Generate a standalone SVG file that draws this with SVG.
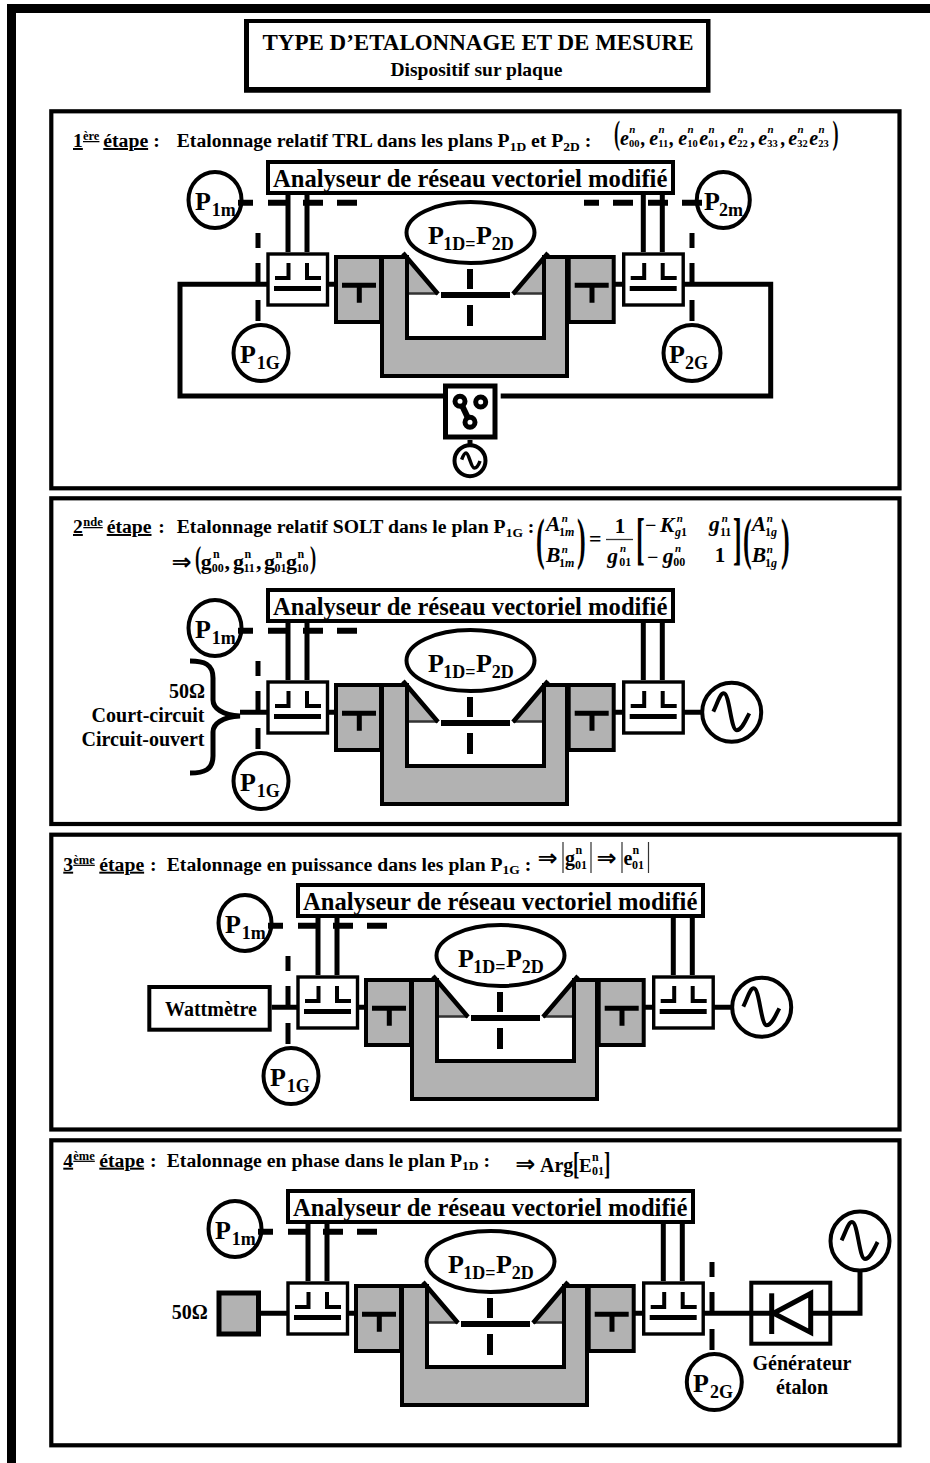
<svg xmlns="http://www.w3.org/2000/svg" width="930" height="1463" viewBox="0 0 930 1463">
<style>
text{font-family:"Liberation Serif","Times New Roman",serif;font-weight:bold;fill:#000}
.h{font-size:19.7px}
.u{text-decoration:underline}
.up{font-size:12.5px}
.sb{font-size:13.5px}
.an{font-size:24.6px}
.P{font-size:26px}
.ps{font-size:18px}
.lb{font-size:20px}
.i{font-style:italic;font-size:20px}
.m{font-style:italic;font-size:21.5px}
.sn{font-style:italic;font-size:11px}
.sd{font-size:10.5px}
.md{font-size:12px}
.gn{font-size:12px}
.gd{font-size:12px}
.ar{font-family:"DejaVu Sans",sans-serif;font-size:24px}
.frame{fill:none;stroke:#000;stroke-width:4.2}
.box{fill:#fff;stroke:#000;stroke-width:4}
.thin{fill:#fff;stroke:#000;stroke-width:3.4}
.gray{fill:#b2b2b2;stroke:#000;stroke-width:4}
.ln{fill:none;stroke:#000;stroke-width:5}
.ds{fill:none;stroke:#000;stroke-width:6}
.ci{fill:#fff;stroke:#000;stroke-width:4}
.sw{fill:#fff;stroke:#000;stroke-width:5}
</style>
<defs>
<g id="coupler">
<rect class="thin" x="268" y="254" width="59.5" height="51"/>
<path d="M275 278H288.500V263M321 278H307V263" fill="none" stroke="#000" stroke-width="4"/>
<path d="M274 288.500H321" class="ln"/>
</g>
<g id="tblock">
<rect class="gray" x="336" y="257" width="45" height="65"/>
<path d="M342 285.300H376M359.300 285.300V302.700" class="ln"/>
</g>
<g id="bench">
<path class="gray" d="M382 257H407V338H544V257H567V376H382Z"/>
<path d="M407 257L438 293.500H407Z" fill="#b2b2b2"/>
<path d="M544 257L513 293.500H544Z" fill="#b2b2b2"/>
<path d="M405 293.500H438M546 293.500H513" fill="none" stroke="#333" stroke-width="2.500"/>
<path d="M403 253L438 294M548 253L513 294" fill="none" stroke="#000" stroke-width="4.500"/>
<path d="M407 255V296M544 255V296" fill="none" stroke="#000" stroke-width="4"/>
</g>
<path id="sine" d="M-18.400 -.6C-14 -10 -11.500 -19 -8 -19C-2 -19 -1 18 5 18C10 18 14 8 17.600 1" fill="none" stroke="#000" stroke-width="4"/>
<g id="plane">
<ellipse class="ci" cx="470.500" cy="232.500" rx="64" ry="30.500"/>
</g>
<g id="analyser">
<rect class="box" x="268" y="162" width="405" height="31"/>
</g>
</defs>

<rect width="930" height="1463" fill="#fff"/>
<path id="page-border" d="M11.500 1463V8.500H930" fill="none" stroke="#000" stroke-width="9"/>

<g id="title">
<path fill-rule="evenodd" d="M244 19H710.500V92.700H244ZM249 23V87H706V23Z"/>
<text x="478" y="50" text-anchor="middle" font-size="23">TYPE D’ETALONNAGE ET DE MESURE</text>
<text x="476.500" y="76" text-anchor="middle" font-size="19.5">Dispositif sur plaque</text>
</g>

<g id="panel-frames">
<rect class="frame" x="51.300" y="111.300" width="848.200" height="377"/>
<rect class="frame" x="51.300" y="498.300" width="848.200" height="325.700"/>
<rect class="frame" x="51.300" y="834.700" width="848.200" height="294.800"/>
<rect class="frame" x="51.300" y="1140.300" width="848.200" height="305"/>
</g>

<g id="step1-header">
<text class="h u" x="73" y="147">1</text><text class="up u" x="83" y="140">ère</text><text class="h u" x="103.300" y="147">étape</text><text class="h" x="153.300" y="147">:</text>
<text class="h" x="176.700" y="147">Etalonnage relatif TRL dans les plans P<tspan class="sb" dy="3.5">1D</tspan><tspan dy="-3.5"> et P</tspan><tspan class="sb" dy="3.5">2D</tspan><tspan dy="-3.5"> :</tspan></text>
<g id="step1-formula">
<text font-size="33" transform="translate(614 144) scale(.55 1)">(</text>
<text class="i" x="620" y="145">e</text><text class="sn" x="629.300" y="133">n</text><text class="sd" x="629" y="147">00</text><text class="i" x="641" y="145">,</text>
<text class="i" x="649.300" y="145">e</text><text class="sn" x="658.600" y="133">n</text><text class="sd" x="658.300" y="147">11</text><text class="i" x="669.500" y="145">,</text>
<text class="i" x="678.300" y="145">e</text><text class="sn" x="687.600" y="133">n</text><text class="sd" x="687.300" y="147">10</text>
<text class="i" x="699.300" y="145">e</text><text class="sn" x="708.600" y="133">n</text><text class="sd" x="708.300" y="147">01</text><text class="i" x="721" y="145">,</text>
<text class="i" x="728.300" y="145">e</text><text class="sn" x="737.600" y="133">n</text><text class="sd" x="737.300" y="147">22</text><text class="i" x="751" y="145">,</text>
<text class="i" x="758.300" y="145">e</text><text class="sn" x="767.600" y="133">n</text><text class="sd" x="767.300" y="147">33</text><text class="i" x="781" y="145">,</text>
<text class="i" x="788.300" y="145">e</text><text class="sn" x="797.600" y="133">n</text><text class="sd" x="797.300" y="147">32</text>
<text class="i" x="809.300" y="145">e</text><text class="sn" x="818.600" y="133">n</text><text class="sd" x="818.300" y="147">23</text>
<text font-size="33" transform="translate(832.500 144) scale(.55 1)">)</text>
</g>
</g>

<g id="step1">
<g id="s1-analyser"><use href="#analyser"/><text class="an" x="273" y="187">Analyseur de réseau vectoriel modifié</text></g>
<g id="s1-plane"><use href="#plane"/><text class="P" x="428" y="243.500">P</text><text class="ps" x="443.300" y="250">1D=</text><text class="P" x="476" y="243.500">P</text><text class="ps" x="491.700" y="250">2D</text></g>
<g id="s1-bench"><use href="#bench"/></g>
<g id="s1-t1"><use href="#tblock"/></g>
<g id="s1-t2"><use href="#tblock" x="232.700"/></g>
<g id="s1-coupler1"><use href="#coupler"/></g>
<g id="s1-coupler2"><use href="#coupler" x="355.700"/></g>
<g id="s1-P1m"><ellipse class="ci" cx="215" cy="200" rx="26.500" ry="28"/><text class="P" x="195" y="209.500">P</text><text class="ps" x="211.700" y="216">1m</text></g>
<g id="s1-P2m"><ellipse class="ci" cx="723.300" cy="200" rx="26.500" ry="28"/><text class="P" x="704" y="209.500">P</text><text class="ps" x="719" y="216">2m</text></g>
<g id="s1-P1G"><ellipse class="ci" cx="261" cy="353" rx="27.500" ry="28"/><text class="P" x="240" y="363">P</text><text class="ps" x="256.700" y="369.300">1G</text></g>
<g id="s1-P2G"><ellipse class="ci" cx="692" cy="353" rx="28.500" ry="28"/><text class="P" x="669" y="363">P</text><text class="ps" x="685" y="369.300">2G</text></g>
<g id="s1-switch">
<rect x="445.500" y="386" width="49.500" height="51" fill="#fff" stroke="#000" stroke-width="5"/>
<path d="M460 401.300L470 422.300" fill="none" stroke="#000" stroke-width="6"/>
<circle class="sw" cx="460" cy="401.300" r="5"/>
<circle class="sw" cx="480.700" cy="402" r="5"/>
<circle class="sw" cx="470" cy="422.300" r="5"/>
</g>
<g id="s1-source"><circle class="ci" cx="470" cy="460.700" r="15.500"/><path d="M461.700 459.700C463 456 464.500 453 466 453C469 453 471 468 474.300 468C477 468 479 464 480 461" fill="none" stroke="#000" stroke-width="3.500"/></g>
<g id="s1-connectors">
<path class="ln" d="M288 193V252M307 193V252M643.300 193V252M662.300 193V252"/>
<path class="ln" d="M268 284.300H180V396H445"/>
<path class="ln" d="M684 284.300H770.700V396H500.700"/>
<path class="ln" d="M329 284.300H336M615 284.300H622M470 440V447"/>
<path class="ds" d="M441 295H510"/>
<path class="ds" d="M470 269V289M470 305V326"/>
<path class="ds" d="M238 202.700H253M268 202.700H288M303 202.700H323M337 202.700H357"/>
<path class="ds" d="M584 202.700H599M613 202.700H633M648 202.700H668M682 202.700H702"/>
<path class="ln" d="M258 233V248M258 263V284M258 300V321"/>
<path class="ln" d="M692 233V248M692 263V284M692 300V321"/>
</g>
</g>

<g id="step2-header">
<text class="h u" x="73" y="533">2</text><text class="up u" x="83.300" y="526">nde</text><text class="h u" x="106.700" y="533">étape</text><text class="h" x="158.300" y="533">:</text>
<text class="h" x="176.700" y="533">Etalonnage relatif SOLT dans le plan P<tspan class="sb" dy="3.5">1G</tspan><tspan dy="-3.5"> :</tspan></text>
<g id="step2-result">
<text class="ar" x="171.500" y="570">⇒</text>
<text font-size="31" transform="translate(195 568) scale(.6 1)">(</text>
<text font-size="22" x="200.700" y="569">g</text><text class="gn" x="213" y="558">n</text><text class="gd" x="211.700" y="571.700">00</text><text font-size="22" x="224.500" y="569">,</text>
<text font-size="22" x="233" y="569">g</text><text class="gn" x="244.500" y="558">n</text><text class="gd" x="243.500" y="571.700">11</text><text font-size="22" x="256" y="569">,</text>
<text font-size="22" x="264" y="569">g</text><text class="gn" x="275.500" y="558">n</text><text class="gd" x="274.500" y="571.700">01</text>
<text font-size="22" x="286" y="569">g</text><text class="gn" x="297.500" y="558">n</text><text class="gd" x="296.500" y="571.700">10</text>
<text font-size="31" transform="translate(310 568) scale(.6 1)">)</text>
</g>
<g id="step2-matrix">
<text font-size="58" transform="translate(536 558) scale(.45 1)">(</text>
<text class="m" x="546" y="531">A</text><text class="sn" x="561.700" y="522">n</text><text class="md" x="559" y="535.700">1<tspan font-style="italic">m</tspan></text>
<text class="m" x="546" y="562.300">B</text><text class="sn" x="561.700" y="553">n</text><text class="md" x="559" y="566.500">1<tspan font-style="italic">m</tspan></text>
<text font-size="58" transform="translate(577 558) scale(.45 1)">)</text>
<text x="589" y="546" font-size="22">=</text>
<text x="620" y="532.500" font-size="21" text-anchor="middle">1</text>
<path d="M606 539.500H633" stroke="#333" stroke-width="1.300"/>
<text class="m" x="607.300" y="563.300">g</text><text class="sn" x="620" y="552">n</text><text class="md" x="619.300" y="566">01</text>
<text font-size="58" transform="translate(636 558) scale(.45 1)">[</text>
<text x="645" y="532" font-size="20">−</text><text class="m" x="660" y="531.700">K</text><text class="sn" x="676.700" y="522">n</text><text class="md" x="675" y="536"><tspan font-style="italic">g</tspan>1</text>
<text class="m" x="709" y="531">g</text><text class="sn" x="721.700" y="522">n</text><text class="md" x="720" y="536">11</text>
<text x="647" y="564" font-size="20">−</text><text class="m" x="662.700" y="563">g</text><text class="sn" x="675" y="552">n</text><text class="md" x="673.300" y="566">00</text>
<text x="720" y="561.700" font-size="21" text-anchor="middle">1</text>
<text font-size="58" transform="translate(733 558) scale(.45 1)">]</text>
<text font-size="58" transform="translate(743 558) scale(.45 1)">(</text>
<text class="m" x="751.700" y="531">A</text><text class="sn" x="766.700" y="522">n</text><text class="md" x="765" y="536">1<tspan font-style="italic">g</tspan></text>
<text class="m" x="751.700" y="562.300">B</text><text class="sn" x="766.700" y="553">n</text><text class="md" x="765" y="566.500">1<tspan font-style="italic">g</tspan></text>
<text font-size="58" transform="translate(781 558) scale(.45 1)">)</text>
</g>
</g>

<g id="step2" transform="translate(0 428)">
<g id="s2-analyser"><use href="#analyser"/><text class="an" x="273" y="187">Analyseur de réseau vectoriel modifié</text></g>
<g id="s2-plane"><use href="#plane"/><text class="P" x="428" y="243.500">P</text><text class="ps" x="443.300" y="250">1D=</text><text class="P" x="476" y="243.500">P</text><text class="ps" x="491.700" y="250">2D</text></g>
<g id="s2-bench"><use href="#bench"/></g>
<g id="s2-t1"><use href="#tblock"/></g>
<g id="s2-t2"><use href="#tblock" x="232.700"/></g>
<g id="s2-coupler1"><use href="#coupler"/></g>
<g id="s2-coupler2"><use href="#coupler" x="355.700"/></g>
<g id="s2-P1m"><ellipse class="ci" cx="215" cy="200" rx="26.500" ry="28"/><text class="P" x="195" y="209.500">P</text><text class="ps" x="211.700" y="216">1m</text></g>
<g id="s2-P1G"><ellipse class="ci" cx="261" cy="353" rx="27.500" ry="28"/><text class="P" x="240" y="363">P</text><text class="ps" x="256.700" y="369.300">1G</text></g>
<g id="s2-source"><circle class="ci" cx="731.700" cy="284.300" r="29.500"/><use href="#sine" x="731.700" y="284.300"/></g>
<g id="s2-loads">
<text class="lb" x="205" y="270" text-anchor="end">50Ω</text>
<text class="lb" x="204.500" y="294" text-anchor="end">Court-circuit</text>
<text class="lb" x="204.500" y="317.700" text-anchor="end">Circuit-ouvert</text>
</g>
<g id="s2-connectors">
<path class="ln" d="M190 233C204 233 213 236 213 250V272C213 280 222 287 240 288C222 289 213 296 213 304V328C213 342 204 345 190 345"/>
<path class="ln" d="M288 193V252M307 193V252M643.300 193V252M662.300 193V252"/>
<path class="ln" d="M240 284.300H268M329 284.300H336M615 284.300H622M684 284.300H703"/>
<path class="ds" d="M441 295H510"/>
<path class="ds" d="M470 269V289M470 305V326"/>
<path class="ds" d="M238 202.700H253M268 202.700H288M303 202.700H323M337 202.700H357"/>
<path class="ln" d="M258 233V248M258 263V284M258 300V321"/>
</g>
</g>

<g id="step3-header">
<text class="h u" x="63.300" y="870.700">3</text><text class="up u" x="73.300" y="863.700">ème</text><text class="h u" x="99.300" y="870.700">étape</text><text class="h" x="150" y="870.700">:</text>
<text class="h" x="166.700" y="870.700">Etalonnage en puissance dans les plan P<tspan class="sb" dy="3.5">1G</tspan><tspan dy="-3.5"> :</tspan></text>
<g id="step3-formula">
<text class="ar" x="537.500" y="866">⇒</text>
<path d="M563 842V873M591 842V873M622 842V873M648.500 842V873" stroke="#333" stroke-width="1.200"/>
<text font-size="20" x="565" y="865">g</text><text class="gn" x="575.500" y="854">n</text><text class="gd" x="575" y="868.500" font-size="13">01</text>
<text class="ar" x="596.500" y="866">⇒</text>
<text font-size="20" x="623.500" y="865">e</text><text class="gn" x="632.500" y="854">n</text><text class="gd" x="632" y="868.500" font-size="13">01</text>
</g>
</g>

<g id="step3" transform="translate(30 723)">
<g id="s3-analyser"><use href="#analyser"/><text class="an" x="273" y="187">Analyseur de réseau vectoriel modifié</text></g>
<g id="s3-plane"><use href="#plane"/><text class="P" x="428" y="243.500">P</text><text class="ps" x="443.300" y="250">1D=</text><text class="P" x="476" y="243.500">P</text><text class="ps" x="491.700" y="250">2D</text></g>
<g id="s3-bench"><use href="#bench"/></g>
<g id="s3-t1"><use href="#tblock"/></g>
<g id="s3-t2"><use href="#tblock" x="232.700"/></g>
<g id="s3-coupler1"><use href="#coupler"/></g>
<g id="s3-coupler2"><use href="#coupler" x="355.700"/></g>
<g id="s3-P1m"><ellipse class="ci" cx="215" cy="200" rx="26.500" ry="28"/><text class="P" x="195" y="209.500">P</text><text class="ps" x="211.700" y="216">1m</text></g>
<g id="s3-P1G"><ellipse class="ci" cx="261" cy="353" rx="27.500" ry="28"/><text class="P" x="240" y="363">P</text><text class="ps" x="256.700" y="369.300">1G</text></g>
<g id="s3-source"><circle class="ci" cx="731.700" cy="284.300" r="29.500"/><use href="#sine" x="731.700" y="284.300"/></g>
<g id="s3-wattmeter"><rect class="box" x="119.300" y="264" width="120.400" height="42.700"/><text class="lb" x="135" y="293">Wattmètre</text></g>
<g id="s3-connectors">
<path class="ln" d="M288 193V252M307 193V252M643.300 193V252M662.300 193V252"/>
<path class="ln" d="M241.700 284.300H268M329 284.300H336M615 284.300H622M684 284.300H703"/>
<path class="ds" d="M441 295H510"/>
<path class="ds" d="M470 269V289M470 305V326"/>
<path class="ds" d="M238 202.700H253M268 202.700H288M303 202.700H323M337 202.700H357"/>
<path class="ln" d="M258 233V248M258 263V284M258 300V321"/>
</g>
</g>

<g id="step4-header">
<text class="h u" x="63.300" y="1166.700">4</text><text class="up u" x="73.300" y="1159.700">ème</text><text class="h u" x="99.300" y="1166.700">étape</text><text class="h" x="150" y="1166.700">:</text>
<text class="h" x="166.700" y="1166.700">Etalonnage en phase dans le plan P<tspan class="sb" dy="3.5">1D</tspan><tspan dy="-3.5"> :</tspan></text>
<g id="step4-formula">
<text class="ar" x="515.200" y="1172" font-weight="normal">⇒</text>
<text font-size="20" x="540" y="1172">Arg</text>
<text font-size="32" transform="translate(573 1174) scale(.6 1)">[</text>
<text font-size="19" x="579" y="1172">E</text><text class="gn" x="592" y="1161">n</text><text class="gd" x="592" y="1175">01</text>
<text font-size="32" transform="translate(604 1174) scale(.6 1)">]</text>
</g>
</g>

<g id="step4" transform="translate(20 1029)">
<g id="s4-analyser"><use href="#analyser"/><text class="an" x="273" y="187">Analyseur de réseau vectoriel modifié</text></g>
<g id="s4-plane"><use href="#plane"/><text class="P" x="428" y="243.500">P</text><text class="ps" x="443.300" y="250">1D=</text><text class="P" x="476" y="243.500">P</text><text class="ps" x="491.700" y="250">2D</text></g>
<g id="s4-bench"><use href="#bench"/></g>
<g id="s4-t1"><use href="#tblock"/></g>
<g id="s4-t2"><use href="#tblock" x="232.700"/></g>
<g id="s4-coupler1"><use href="#coupler"/></g>
<g id="s4-coupler2"><use href="#coupler" x="355.700"/></g>
<g id="s4-P1m"><ellipse class="ci" cx="215" cy="200" rx="26.500" ry="28"/><text class="P" x="195" y="209.500">P</text><text class="ps" x="211.700" y="216">1m</text></g>
<g id="s4-P2G"><ellipse class="ci" cx="694.300" cy="353" rx="27.500" ry="28"/><text class="P" x="673" y="363">P</text><text class="ps" x="690" y="369.300">2G</text></g>
<g id="s4-load"><rect x="199" y="264" width="39.500" height="41" fill="#b2b2b2" stroke="#000" stroke-width="5"/><text class="lb" x="151.700" y="290">50Ω</text></g>
<g id="s4-generator">
<rect class="box" x="731.300" y="253.700" width="79" height="61"/>
<path d="M751.700 264.300V305" class="ln"/>
<path d="M753.500 284.300L790.700 264.500V303.500Z" class="ln"/>
<text class="lb" x="782" y="341" text-anchor="middle">Générateur</text>
<text class="lb" x="782" y="365" text-anchor="middle">étalon</text>
</g>
<g id="s4-source"><circle class="ci" cx="840" cy="212" r="29.500"/><use href="#sine" x="840" y="212"/></g>
<g id="s4-connectors">
<path class="ln" d="M288 193V252M307 193V252M643.300 193V252M662.300 193V252"/>
<path class="ln" d="M238.500 284.300H268M329 284.300H336M615 284.300H622"/>
<path class="ln" d="M684 284.300H752M790.700 284.300H840V242"/>
<path class="ds" d="M441 295H510"/>
<path class="ds" d="M470 269V289M470 305V326"/>
<path class="ds" d="M238 202.700H253M268 202.700H288M303 202.700H323M337 202.700H357"/>
<path class="ln" d="M692 233V248M692 263V284M692 300V321"/>
</g>
</g>
</svg>
